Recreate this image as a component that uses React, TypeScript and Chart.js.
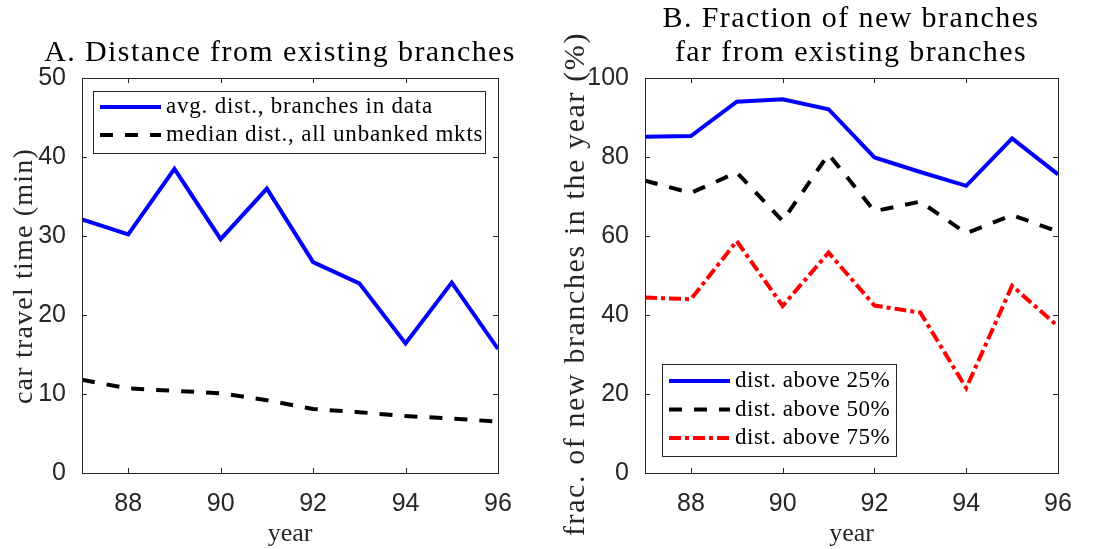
import { useEffect, useRef } from "react";
import { Chart, registerables } from "chart.js";

Chart.register(...registerables);

// Years on the horizontal axis (19xx)
const years = [87, 88, 89, 90, 91, 92, 93, 94, 95, 96];
const yearTicks = [88, 90, 92, 94, 96];

// Panel A: car travel time (minutes)
const avgDistBranches = [32.1, 30.2, 38.5, 29.6, 36.0, 26.7, 24.0, 16.4, 24.1, 15.7];
const medianDistUnbanked = [11.8, 10.7, 10.4, 10.1, 9.2, 8.1, 7.7, 7.2, 6.9, 6.5];
const minuteTicks = [0, 10, 20, 30, 40, 50];

// Panel B: share of new branches far from existing ones (%)
const above25 = [85.1, 85.3, 94.0, 94.6, 92.1, 79.9, 76.2, 72.7, 84.7, 75.6];
const above50 = [74.0, 70.9, 76.1, 63.8, 80.7, 66.3, 68.7, 60.7, 65.3, 61.1];
const above75 = [44.4, 44.0, 58.7, 42.3, 55.8, 42.4, 40.6, 21.5, 47.4, 37.1];
const percentTicks = [0, 20, 40, 60, 80, 100];

const INK = "#262626";
const SERIF = "'Liberation Serif', 'DejaVu Serif', serif";
const SANS = "'Liberation Sans', Arial, sans-serif";

type Series = { label: string; values: number[]; color: string; dash: number[] };

type PanelProps = {
  left: number;
  width: number;
  height: number;
  area: { left: number; right: number; top: number; bottom: number };
  titleX: number;
  titleLines: { text: string; y: number }[];
  yLabel: string;
  yLabelX: number;
  yLabelY: number;
  yLabelFont: { size: number; spacing: number };
  xLabel: string;
  yMax: number;
  yTicks: number[];
  series: Series[];
  legendBox: { x: number; y: number; w: number; h: number; rowStart: number; rowGap: number; spacing: number };
};

function Panel(p: PanelProps) {
  const ref = useRef<HTMLCanvasElement | null>(null);

  useEffect(() => {
    const canvas = ref.current;
    if (!canvas) return;

    // Frame, inward ticks, labels and boxed legend, drawn in MATLAB style
    const decor = {
      id: "decor",
      afterDraw(chart: any) {
        const ctx = chart.ctx as any;
        const a = chart.chartArea;
        const xs = chart.scales.x;
        const ys = chart.scales.y;
        ctx.save();
        ctx.strokeStyle = INK;
        ctx.lineWidth = 1;
        ctx.strokeRect(a.left + 0.5, a.top + 0.5, a.right - a.left, a.bottom - a.top);
        const tl = 5;
        ctx.beginPath();
        for (const v of yearTicks) {
          const x = Math.round(xs.getPixelForValue(v)) + 0.5;
          ctx.moveTo(x, a.bottom);
          ctx.lineTo(x, a.bottom - tl);
          ctx.moveTo(x, a.top);
          ctx.lineTo(x, a.top + tl);
        }
        for (const v of p.yTicks) {
          const y = Math.round(ys.getPixelForValue(v)) + 0.5;
          ctx.moveTo(a.left, y);
          ctx.lineTo(a.left + tl, y);
          ctx.moveTo(a.right, y);
          ctx.lineTo(a.right - tl, y);
        }
        ctx.stroke();

        const cx = (a.left + a.right) / 2;
        ctx.fillStyle = "#000";
        ctx.textAlign = "center";
        ctx.textBaseline = "middle";
        ctx.font = `30px ${SERIF}`;
        ctx.letterSpacing = "1.4px";
        for (const t of p.titleLines) ctx.fillText(t.text, p.titleX, t.y);

        ctx.fillStyle = INK;
        ctx.font = `26px ${SERIF}`;
        ctx.letterSpacing = "0px";
        ctx.fillText(p.xLabel, cx, 534);
        ctx.save();
        ctx.translate(p.yLabelX, p.yLabelY);
        ctx.rotate(-Math.PI / 2);
        ctx.font = `${p.yLabelFont.size}px ${SERIF}`;
        ctx.letterSpacing = `${p.yLabelFont.spacing}px`;
        ctx.fillText(p.yLabel, 0, 0);
        ctx.restore();

        // legend
        const L = p.legendBox;
        ctx.fillStyle = "#fff";
        ctx.fillRect(L.x, L.y, L.w, L.h);
        ctx.strokeStyle = INK;
        ctx.lineWidth = 1;
        ctx.strokeRect(L.x + 0.5, L.y + 0.5, L.w, L.h);
        ctx.font = `23px ${SERIF}`;
        ctx.letterSpacing = `${L.spacing}px`;
        ctx.textAlign = "left";
        p.series.forEach((s, i) => {
          const y = L.y + L.rowStart + i * L.rowGap;
          ctx.beginPath();
          ctx.strokeStyle = s.color;
          ctx.lineWidth = 4;
          ctx.setLineDash(s.dash);
          ctx.moveTo(L.x + 7, y);
          ctx.lineTo(L.x + 68, y);
          ctx.stroke();
          ctx.setLineDash([]);
          ctx.fillStyle = "#000";
          ctx.fillText(s.label, L.x + 73, y);
        });
        ctx.restore();
      },
    };

    const chart = new Chart(canvas, {
      type: "line",
      data: {
        datasets: p.series.map((s) => ({
          label: s.label,
          data: years.map((yr, i) => ({ x: yr, y: s.values[i] })),
          borderColor: s.color,
          borderWidth: 4,
          borderDash: s.dash,
          pointRadius: 0,
          tension: 0,
          fill: false,
        })),
      },
      options: {
        responsive: false,
        animation: false,
        devicePixelRatio: 1,
        layout: {
          padding: {
            left: 0,
            top: p.area.top,
            right: p.width - p.area.right,
            bottom: 0,
          },
        },
        plugins: { legend: { display: false }, tooltip: { enabled: false }, title: { display: false } },
        scales: {
          x: {
            type: "linear",
            min: years[0],
            max: years[years.length - 1],
            grid: { display: false },
            border: { display: false },
            afterFit: (s: any) => {
              s.height = p.height - p.area.bottom;
            },
            afterBuildTicks: (s: any) => {
              s.ticks = yearTicks.map((v) => ({ value: v }));
            },
            ticks: {
              color: INK,
              font: { family: SANS, size: 25 },
              padding: 8,
              maxRotation: 0,
              callback: (v: any) => String(v),
            },
          },
          y: {
            type: "linear",
            min: 0,
            max: p.yMax,
            grid: { display: false },
            border: { display: false },
            afterFit: (s: any) => {
              s.width = p.area.left;
            },
            afterBuildTicks: (s: any) => {
              s.ticks = p.yTicks.map((v) => ({ value: v }));
            },
            ticks: {
              color: INK,
              font: { family: SANS, size: 25 },
              padding: 8,
              callback: (v: any) => String(v),
            },
          },
        },
      },
      plugins: [decor],
    } as any);

    return () => chart.destroy();
  }, []);

  return (
    <canvas
      ref={ref}
      width={p.width}
      height={p.height}
      style={{ position: "absolute", left: p.left, top: 0, width: p.width, height: p.height }}
    />
  );
}

export default function App() {
  return (
    <div style={{ position: "fixed", left: 0, top: 0, width: 1093, height: 549, background: "#fff" }}>
      <Panel
        left={0}
        width={546}
        height={549}
        area={{ left: 82, right: 498, top: 78, bottom: 473 }}
        titleX={280}
        titleLines={[{ text: "A. Distance from existing branches", y: 53 }]}
        yLabel="car travel time (min)"
        yLabelX={25}
        yLabelY={276}
        yLabelFont={{ size: 28, spacing: 1.2 }}
        xLabel="year"
        yMax={50}
        yTicks={minuteTicks}
        series={[
          { label: "avg. dist., branches in data", values: avgDistBranches, color: "#0000ff", dash: [] },
          { label: "median dist., all unbanked mkts", values: medianDistUnbanked, color: "#000000", dash: [13, 12] },
        ]}
        legendBox={{ x: 93, y: 91, w: 392, h: 62, rowStart: 16, rowGap: 28, spacing: 0.8 }}
      />
      <Panel
        left={546}
        width={547}
        height={549}
        area={{ left: 99, right: 512, top: 78, bottom: 473 }}
        titleX={305}
        titleLines={[
          { text: "B. Fraction of new branches", y: 19 },
          { text: "far from existing branches", y: 53 },
        ]}
        yLabel="frac. of new branches in the year (%)"
        yLabelX={30}
        yLabelY={284}
        yLabelFont={{ size: 30, spacing: 1.6 }}
        xLabel="year"
        yMax={100}
        yTicks={percentTicks}
        series={[
          { label: "dist. above 25%", values: above25, color: "#0000ff", dash: [] },
          { label: "dist. above 50%", values: above50, color: "#000000", dash: [13, 12] },
          { label: "dist. above 75%", values: above75, color: "#ff0000", dash: [12, 4, 4, 4] },
        ]}
        legendBox={{ x: 116, y: 364, w: 234, h: 92, rowStart: 17, rowGap: 28.5, spacing: 0.5 }}
      />
    </div>
  );
}
